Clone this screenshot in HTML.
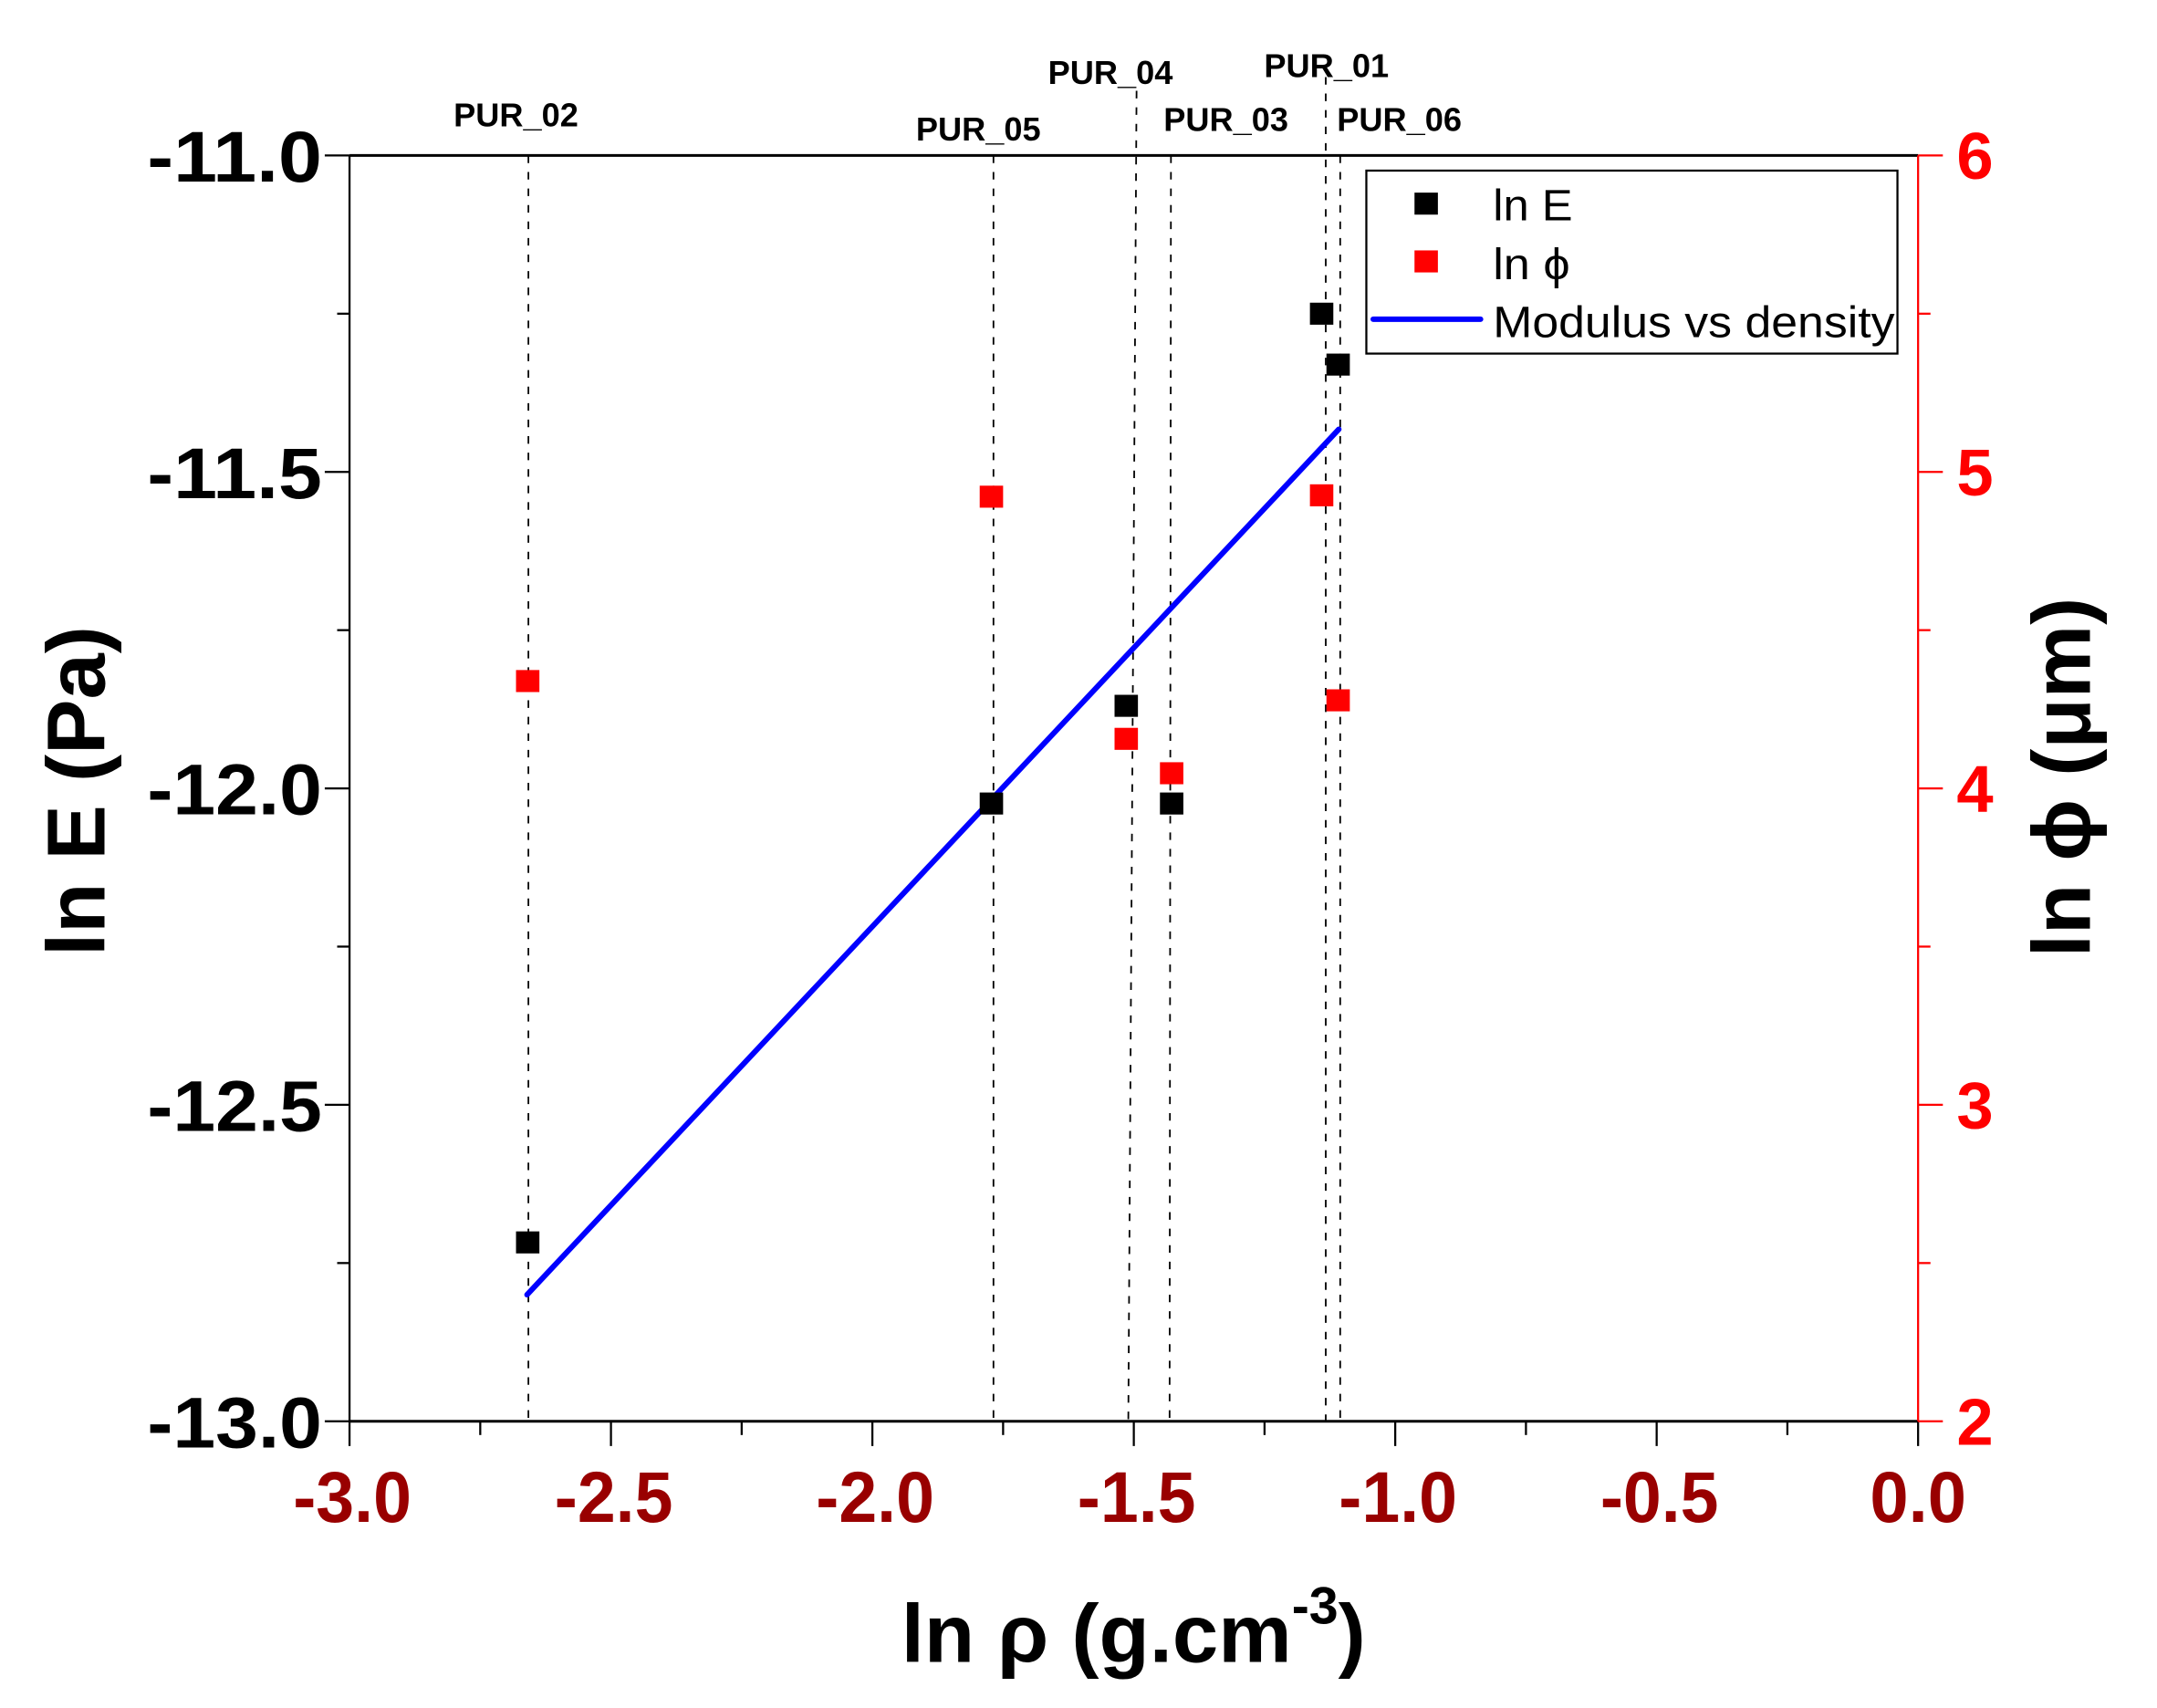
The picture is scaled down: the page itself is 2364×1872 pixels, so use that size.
<!DOCTYPE html>
<html><head><meta charset="utf-8"><style>
html,body{margin:0;padding:0;background:#fff;}
svg{display:block;}
text{font-family:"Liberation Sans",Arial,sans-serif;}
</style></head><body>
<svg width="2364" height="1872" viewBox="0 0 1567.6 1241.4" xmlns="http://www.w3.org/2000/svg">
<rect x="0" y="0" width="1567.6" height="1241.4" fill="#fff"/>
<g stroke="#000" stroke-width="1.2" stroke-dasharray="5.5,6.5" fill="none">
<line x1="384" y1="113" x2="384" y2="1033"/>
<line x1="722" y1="113" x2="722" y2="1033"/>
<line x1="826" y1="66" x2="820" y2="1033"/>
<line x1="851" y1="113" x2="850" y2="1033"/>
<line x1="963.5" y1="56" x2="963.5" y2="1033"/>
<line x1="974" y1="113" x2="974" y2="1033"/>
</g>
<g font-weight="bold" font-size="24" fill="#000" text-anchor="middle">
<text x="375" y="92">PUR_02</text>
<text x="711" y="102">PUR_05</text>
<text x="807" y="61">PUR_04</text>
<text x="891" y="95">PUR_03</text>
<text x="964" y="56">PUR_01</text>
<text x="1017" y="95">PUR_06</text>
</g>
<line x1="254" y1="113" x2="1394" y2="113" stroke="#000" stroke-width="2"/>
<line x1="254" y1="1033" x2="1394" y2="1033" stroke="#000" stroke-width="2"/>
<line x1="254" y1="113" x2="254" y2="1033" stroke="#000" stroke-width="1.5"/>
<line x1="1394" y1="113" x2="1394" y2="1033" stroke="#f00" stroke-width="1.5"/>
<g stroke="#000" stroke-width="1.5">
<line x1="236" y1="113" x2="254" y2="113"/>
<line x1="236" y1="343" x2="254" y2="343"/>
<line x1="236" y1="573" x2="254" y2="573"/>
<line x1="236" y1="803" x2="254" y2="803"/>
<line x1="236" y1="1033" x2="254" y2="1033"/>
<line x1="245" y1="228" x2="254" y2="228"/>
<line x1="245" y1="458" x2="254" y2="458"/>
<line x1="245" y1="688" x2="254" y2="688"/>
<line x1="245" y1="918" x2="254" y2="918"/>
</g>
<g stroke="#000" stroke-width="1.5">
<line x1="254" y1="1033" x2="254" y2="1051"/>
<line x1="444" y1="1033" x2="444" y2="1051"/>
<line x1="634" y1="1033" x2="634" y2="1051"/>
<line x1="824" y1="1033" x2="824" y2="1051"/>
<line x1="1014" y1="1033" x2="1014" y2="1051"/>
<line x1="1204" y1="1033" x2="1204" y2="1051"/>
<line x1="1394" y1="1033" x2="1394" y2="1051"/>
<line x1="349" y1="1033" x2="349" y2="1043"/>
<line x1="539" y1="1033" x2="539" y2="1043"/>
<line x1="729" y1="1033" x2="729" y2="1043"/>
<line x1="919" y1="1033" x2="919" y2="1043"/>
<line x1="1109" y1="1033" x2="1109" y2="1043"/>
<line x1="1299" y1="1033" x2="1299" y2="1043"/>
</g>
<g stroke="#f00" stroke-width="1.5">
<line x1="1394" y1="113" x2="1412" y2="113"/>
<line x1="1394" y1="343" x2="1412" y2="343"/>
<line x1="1394" y1="573" x2="1412" y2="573"/>
<line x1="1394" y1="803" x2="1412" y2="803"/>
<line x1="1394" y1="1033" x2="1412" y2="1033"/>
<line x1="1394" y1="228" x2="1403" y2="228"/>
<line x1="1394" y1="458" x2="1403" y2="458"/>
<line x1="1394" y1="688" x2="1403" y2="688"/>
<line x1="1394" y1="918" x2="1403" y2="918"/>
</g>
<g font-weight="bold" font-size="52" fill="#000" text-anchor="end">
<text x="234" y="132" textLength="127" lengthAdjust="spacingAndGlyphs">-11.0</text>
<text x="234" y="362" textLength="127" lengthAdjust="spacingAndGlyphs">-11.5</text>
<text x="234" y="592" textLength="127" lengthAdjust="spacingAndGlyphs">-12.0</text>
<text x="234" y="822" textLength="127" lengthAdjust="spacingAndGlyphs">-12.5</text>
<text x="234" y="1052" textLength="127" lengthAdjust="spacingAndGlyphs">-13.0</text>
</g>
<g font-weight="bold" font-size="52" fill="#990000" text-anchor="middle">
<text x="256" y="1106" textLength="86" lengthAdjust="spacingAndGlyphs">-3.0</text>
<text x="446" y="1106" textLength="86" lengthAdjust="spacingAndGlyphs">-2.5</text>
<text x="636" y="1106" textLength="86" lengthAdjust="spacingAndGlyphs">-2.0</text>
<text x="826" y="1106" textLength="86" lengthAdjust="spacingAndGlyphs">-1.5</text>
<text x="1016" y="1106" textLength="86" lengthAdjust="spacingAndGlyphs">-1.0</text>
<text x="1206" y="1106" textLength="86" lengthAdjust="spacingAndGlyphs">-0.5</text>
<text x="1394" y="1106" textLength="70" lengthAdjust="spacingAndGlyphs">0.0</text>
</g>
<g font-weight="bold" font-size="48" fill="#f00">
<text x="1422" y="130">6</text>
<text x="1422" y="360">5</text>
<text x="1422" y="590">4</text>
<text x="1422" y="820">3</text>
<text x="1422" y="1050">2</text>
</g>
<text x="0" y="0" transform="translate(76,575) rotate(-90)" font-weight="bold" font-size="60" text-anchor="middle">ln E (Pa)</text>
<text x="0" y="0" transform="translate(1519,565) rotate(-90)" font-weight="bold" font-size="60" text-anchor="middle">ln ϕ (μm)</text>
<text x="655" y="1208" font-weight="bold" font-size="60">ln ρ (g.cm<tspan font-size="38" dy="-28">-3</tspan><tspan dy="28">)</tspan></text>
<line x1="383" y1="941" x2="973" y2="312" stroke="#0000ff" stroke-width="4" stroke-linecap="round"/>
<g fill="#f00">
<rect x="375" y="487" width="17" height="16"/>
<rect x="712" y="353" width="17" height="16"/>
<rect x="810" y="529" width="17" height="16"/>
<rect x="843" y="554" width="17" height="16"/>
<rect x="952" y="352" width="17" height="16"/>
<rect x="964" y="501" width="17" height="16"/>
</g>
<g fill="#000">
<rect x="375" y="895" width="17" height="16"/>
<rect x="712" y="576" width="17" height="16"/>
<rect x="810" y="505" width="17" height="16"/>
<rect x="843" y="576" width="17" height="16"/>
<rect x="952" y="220" width="17" height="16"/>
<rect x="964" y="257" width="17" height="16"/>
</g>
<rect x="993" y="124" width="386" height="133" fill="#fff" stroke="#000" stroke-width="1.5"/>
<rect x="1028" y="140" width="17" height="16" fill="#000"/>
<rect x="1028" y="182" width="17" height="16" fill="#f00"/>
<line x1="998" y1="232" x2="1076" y2="232" stroke="#0000ff" stroke-width="4" stroke-linecap="round"/>
<g font-size="32" fill="#000">
<text x="1085" y="160" textLength="58" lengthAdjust="spacingAndGlyphs">ln E</text>
<text x="1085" y="203" textLength="56" lengthAdjust="spacingAndGlyphs">ln ϕ</text>
<text x="1085" y="245" textLength="292" lengthAdjust="spacingAndGlyphs">Modulus vs density</text>
</g>
</svg>
</body></html>
